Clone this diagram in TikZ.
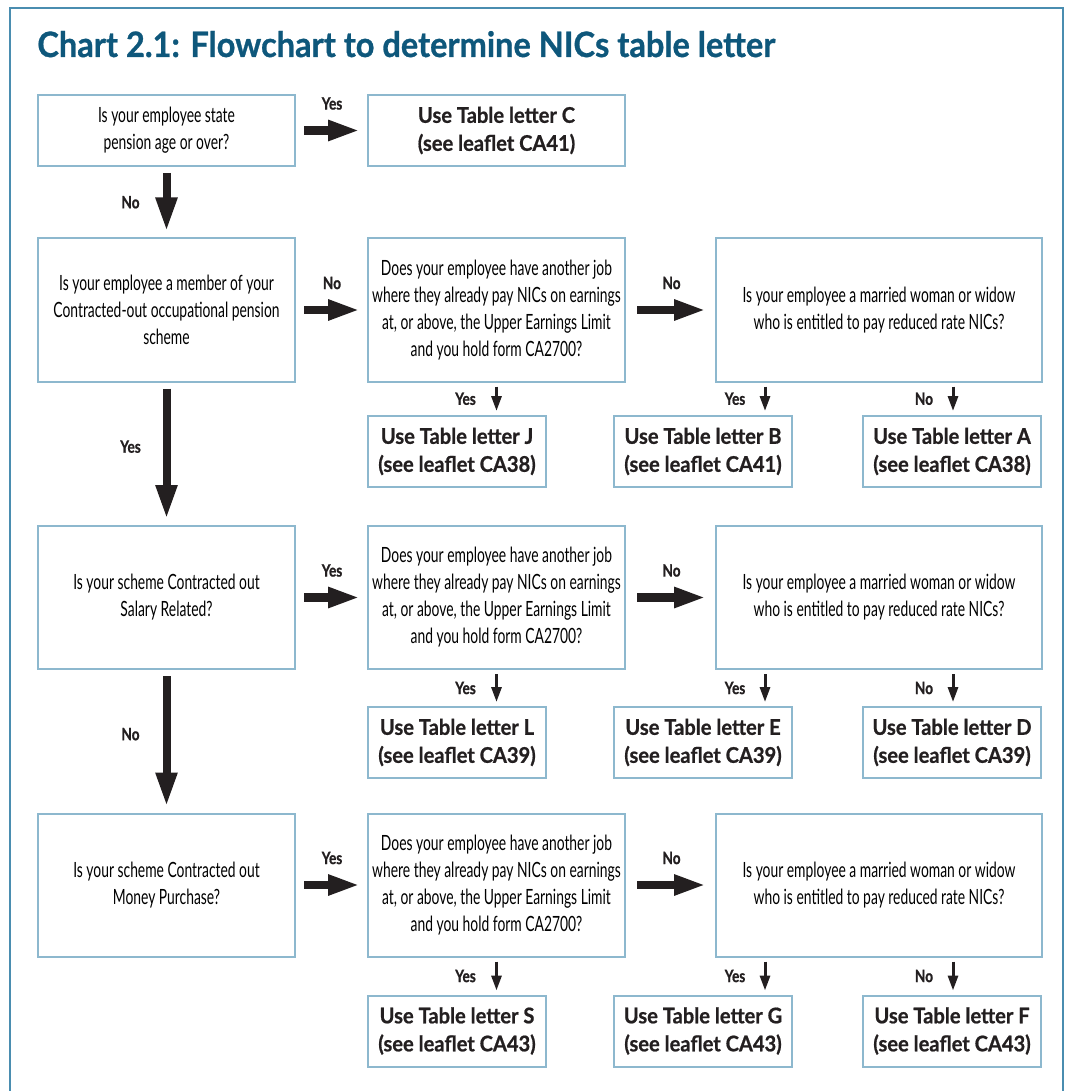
\documentclass[tikz,border=0pt]{standalone}
\usepackage{fontspec}
\setmainfont[FakeStretch=0.66]{Lato}
\newfontfamily\titlefont[FakeStretch=0.93,FakeBold=0.8]{Lato}
\newfontfamily\resfont[FakeStretch=0.93,FakeBold=0.8]{Lato}
\newfontfamily\ansfont[FakeStretch=0.8,FakeBold=0.8]{Lato}
\usetikzlibrary{arrows.meta}

\definecolor{framecol}{HTML}{4A8DB0}
\definecolor{boxcol}{HTML}{8DB8CE}
\definecolor{titlecol}{HTML}{0E577B}
\definecolor{arrowcol}{HTML}{231F20}

\tikzset{
  question/.style={draw=boxcol, line width=1pt, align=center, inner sep=0pt,
    font=\fontsize{10.5}{13.5}\selectfont},
  result/.style={draw=boxcol, line width=1pt, align=center, inner sep=0pt,
    minimum width=89pt, minimum height=35.5pt, text=arrowcol,
    font=\resfont\bfseries\fontsize{10.8}{14}\selectfont},
  bigarrow/.style={arrowcol, line width=4.3pt, -{Triangle[length=16pt,width=9.5pt]}},
  downarrow/.style={arrowcol, line width=4pt, -{Triangle[length=17pt,width=10pt]},
    shorten <=3pt, shorten >=3pt},
  smallarrow/.style={arrowcol, line width=1.5pt, -{Triangle[length=7.5pt,width=5pt]},
    shorten <=2pt, shorten >=2pt},
  answer/.style={font=\ansfont\bfseries\fontsize{8.5}{9}\selectfont, text=arrowcol, inner sep=0pt}
}

\begin{document}
\begin{tikzpicture}[x=0.5pt,y=-0.5pt]

  \useasboundingbox (0,0) rectangle (1067,1091);

  % Rahmen und Titel
  \draw[framecol, line width=1pt] (10,1091) |- (1063,8) -- (1063,1091);
  \node[anchor=base west, inner sep=0pt, text=titlecol,
    font=\titlefont\bfseries\fontsize{17.5}{20}\selectfont] (title) at (37,57)
    {Chart 2.1: Flowchart to determine NICs table letter};

  % Linke Spalte
  \node[question, minimum width=128.5pt, minimum height=35.5pt] (pension) at (166.5,130.5)
    {Is your employee state\\pension age or over?};
  \node[result, minimum width=128.5pt] (letterC) at (496.5,130.5)
    {Use Table letter C\\(see leaflet CA41)};
  \node[question, minimum width=128.5pt, minimum height=71.5pt] (member) at (166.5,310)
    {Is your employee a member of your\\Contracted-out occupational pension\\scheme};
  \node[question, minimum width=128.5pt, minimum height=71.5pt] (salary) at (166.5,597.5)
    {Is your scheme Contracted out\\Salary Related?};
  \node[question, minimum width=128.5pt, minimum height=71.5pt] (money) at (166.5,885)
    {Is your scheme Contracted out\\Money Purchase?};

  \draw[bigarrow] ([xshift=4pt]pension.east) -- node[answer, yshift=13.5pt] (yesC) {Yes}
    ([xshift=-3.5pt]letterC.west);
  \draw[downarrow] (pension) -- node[answer, xshift=-18pt] (noM) {No} (member);
  \draw[downarrow] (member) -- node[answer, pos=0.45, xshift=-18pt] (yesS) {Yes} (salary);
  \draw[downarrow] (salary) -- node[answer, pos=0.45, xshift=-18pt] (noP) {No} (money);

  % Spalten der Zusatzfragen
  \coordinate (yesx) at (765,0);
  \coordinate (nox) at (953,0);

  \foreach \r/\src/\ans/\y/\ry/\j/\jl/\b/\bl/\a/\al in
    {2/member/No/310/451.5/J/38/B/41/A/38,
     3/salary/Yes/597.5/742.5/L/39/E/39/D/39,
     4/money/Yes/885/1031/S/43/G/43/F/43} {
    \node[question, minimum width=128.5pt, minimum height=71.5pt] (job\r) at (496.5,\y)
      {Does your employee have another job\\where they already pay NICs on earnings\\at, or above, the Upper Earnings Limit\\and you hold form CA2700?};
    \node[question, minimum width=163pt, minimum height=71.5pt] (wife\r) at (879,\y)
      {Is your employee a married woman or widow\\who is entitled to pay reduced rate NICs?};
    \node[result] (resj\r) at (457,\ry) {Use Table letter \j\\(see leaflet CA\jl)};
    \node[result] (resb\r) at (703,\ry) {Use Table letter \b\\(see leaflet CA\bl)};
    \node[result] (resa\r) at (952,\ry) {Use Table letter \a\\(see leaflet CA\al)};

    \draw[bigarrow] ([xshift=4pt]\src.east) -- node[answer, yshift=13.5pt] {\ans}
      ([xshift=-3.5pt]job\r.west);
    \draw[bigarrow] ([xshift=5.5pt]job\r.east) -- node[answer, yshift=13.5pt] {No}
      ([xshift=-4.5pt]wife\r.west);
    \draw[smallarrow] (job\r.south) -- node[answer, xshift=-15.5pt] {Yes} (job\r.south |- resj\r.north);
    \draw[smallarrow] (wife\r.south -| yesx) -- node[answer, xshift=-15pt] {Yes} (resb\r.north -| yesx);
    \draw[smallarrow] (wife\r.south -| nox) -- node[answer, xshift=-14.5pt] {No} (resa\r.north -| nox);
  }

\end{tikzpicture}
\end{document}
